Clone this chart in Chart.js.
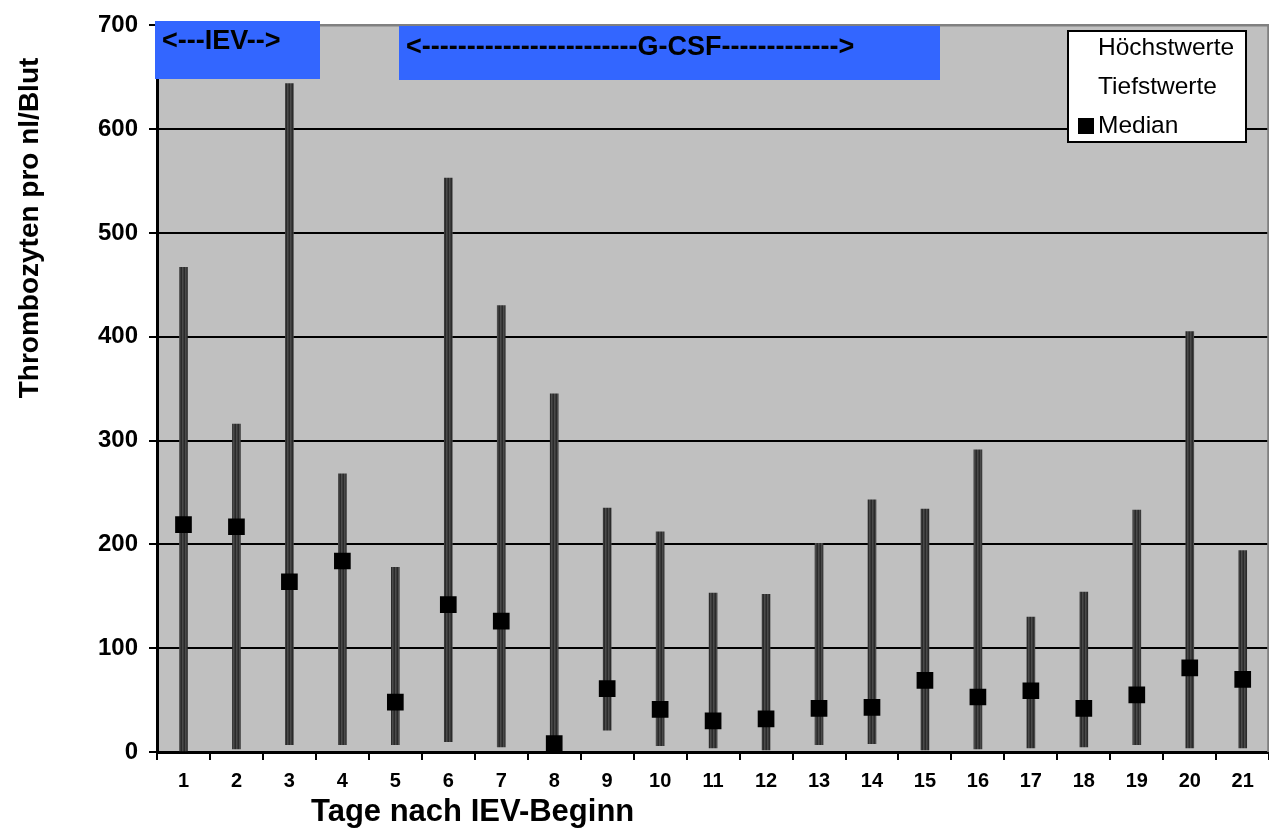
<!DOCTYPE html>
<html>
<head>
<meta charset="utf-8">
<script src="https://cdn.jsdelivr.net/npm/chart.js@4"></script>
<style>
  html, body { margin: 0; padding: 0; background: #fff; overflow: hidden; }
  #wrap { width: 1269px; height: 829px; overflow: hidden; }
  canvas { display: block; }
</style>
</head>
<body>
<div id="wrap"><canvas id="chart" width="1281" height="829"></canvas></div>
<script>
const DAYS = ["1","2","3","4","5","6","7","8","9","10","11","12","13","14","15","16","17","18","19","20","21"];
const HIGHS = [467, 316, 644, 268, 178, 553, 430, 345, 235, 212, 153, 152, 201, 243, 234, 291, 130, 154, 233, 405, 194];
const LOWS = [0, 3, 7, 7, 7, 10, 5, 1, 21, 6, 4, 2, 7, 8, 2, 3, 4, 5, 7, 4, 4];
const MEDIANS = [219, 217, 164, 184, 48, 142, 126, 8, 61, 41, 30, 32, 42, 43, 69, 53, 59, 42, 55, 81, 70];
const Y_TICKS = [0, 100, 200, 300, 400, 500, 600, 700];
const SERIES_NAMES = ["Höchstwerte", "Tiefstwerte", "Median"];

const FONT = "'Liberation Sans', Arial, sans-serif";

// dark vertical stripes like the old high-low lines
function stripes() {
  const c = document.createElement("canvas");
  c.width = 3; c.height = 1;
  const g = c.getContext("2d");
  ["#3a3a3a", "#2a2a2a", "#4a4a4a"].forEach((col, i) => {
    g.fillStyle = col; g.fillRect(i, 0, 1, 1);
  });
  return g.createPattern(c, "repeat");
}

const decor = {
  id: "decor",
  beforeDraw(chart) {
    const { ctx, chartArea: a } = chart;
    ctx.save();
    ctx.fillStyle = "#c0c0c0";
    ctx.fillRect(a.left, a.top, a.right - a.left, a.bottom - a.top);
    ctx.restore();
  },
  afterDatasetsDraw(chart) {
    const { ctx, chartArea: a } = chart;
    ctx.save();
    ctx.strokeStyle = "#808080";
    ctx.lineWidth = 2;
    ctx.beginPath();
    ctx.moveTo(a.left, a.top);
    ctx.lineTo(a.right - 1, a.top);
    ctx.lineTo(a.right - 1, a.bottom);
    ctx.stroke();
    ctx.restore();
  },
  afterDraw(chart) {
    const { ctx } = chart;
    ctx.save();
    // annotation boxes
    ctx.fillStyle = "#3366ff";
    ctx.fillRect(155, 21, 165, 58);
    ctx.fillRect(399, 26, 541, 54);
    ctx.fillStyle = "#000";
    ctx.font = "bold 27px " + FONT;
    ctx.textBaseline = "middle";
    ctx.textAlign = "left";
    ctx.fillText("<---IEV-->", 162, 42);
    ctx.fillText("<------------------------G-CSF------------->", 406, 48);

    // legend
    ctx.fillStyle = "#fff";
    ctx.fillRect(1068, 31, 178, 111);
    ctx.strokeStyle = "#000";
    ctx.lineWidth = 2;
    ctx.strokeRect(1068, 31, 178, 111);
    ctx.fillStyle = "#000";
    ctx.font = "24.5px " + FONT;
    const rows = [48, 87, 126];
    SERIES_NAMES.forEach((name, i) => ctx.fillText(name, 1098, rows[i]));
    ctx.fillRect(1078, 118, 16, 16);

    // axis titles
    ctx.font = "bold 31px " + FONT;
    ctx.fillText("Tage nach IEV-Beginn", 311, 812);
    ctx.translate(30, 228);
    ctx.rotate(-Math.PI / 2);
    ctx.textAlign = "center";
    ctx.font = "bold 28px " + FONT;
    ctx.fillText("Thrombozyten pro nl/Blut", 0, 0);
    ctx.restore();
  }
};

const ctx = document.getElementById("chart").getContext("2d");
new Chart(ctx, {
  data: {
    labels: DAYS,
    datasets: [
      {
        type: "line",
        label: SERIES_NAMES[2],
        data: MEDIANS,
        showLine: false,
        pointStyle: "rect",
        pointRadius: 11.8,
        pointBackgroundColor: "#000",
        pointBorderWidth: 0,
        order: 0
      },
      {
        type: "bar",
        label: SERIES_NAMES[0] + " / " + SERIES_NAMES[1],
        data: LOWS.map((low, i) => [low, HIGHS[i]]),
        backgroundColor: stripes(),
        borderWidth: 0,
        barThickness: 8,
        grouped: false,
        order: 1
      }
    ]
  },
  options: {
    responsive: false,
    animation: false,
    layout: { padding: { top: 20, left: 0, right: 0, bottom: 0 } },
    plugins: { legend: { display: false }, tooltip: { enabled: false } },
    scales: {
      x: {
        type: "category",
        offset: true,
        grid: { offset: true, drawOnChartArea: false, color: "#000", lineWidth: 2, tickLength: 8 },
        border: { color: "#000", width: 3 },
        ticks: { color: "#000", font: { family: FONT, size: 20, weight: "bold" }, padding: 9 },
        afterFit(scale) { scale.height = 77; }
      },
      y: {
        min: 0,
        max: 700,
        afterBuildTicks(scale) { scale.ticks = Y_TICKS.map((v) => ({ value: v })); },
        grid: {
          color: (c) => (c.tick && c.tick.value === 700 ? "#808080" : "#000"),
          lineWidth: 2,
          tickLength: 8,
          tickColor: "#000"
        },
        border: { color: "#000", width: 3 },
        ticks: { color: "#000", font: { family: FONT, size: 24, weight: "bold" }, padding: 11 },
        afterFit(scale) { scale.width = 157; }
      }
    }
  },
  plugins: [decor]
});
</script>
</body>
</html>
